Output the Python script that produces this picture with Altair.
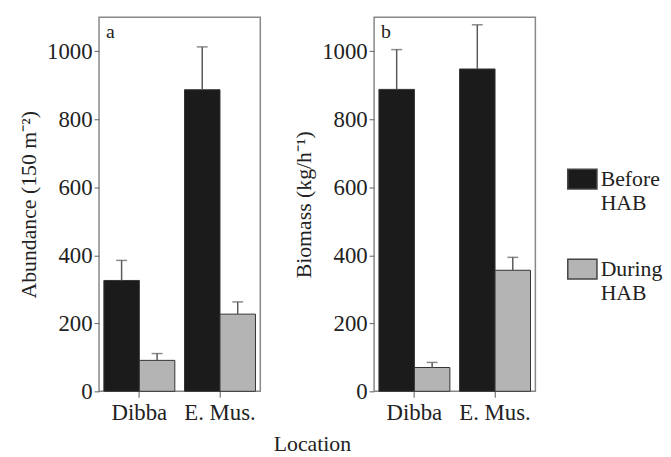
import altair as alt
import pandas as pd

locations = ["Dibba", "Dibba", "E. Mus.", "E. Mus."]
periods = ["Before HAB", "During HAB", "Before HAB", "During HAB"]
period_order = ["Before HAB", "During HAB"]
abund_mean = [326, 91, 887, 227]
abund_err = [59, 20, 126, 36]
bio_mean = [888, 70, 948, 356]
bio_err = [117, 15, 130, 38]

FONT = "Liberation Serif"


def make_df(mean, err):
    return pd.DataFrame({
        "loc": locations,
        "period": periods,
        "mean": mean,
        "top": [m + e for m, e in zip(mean, err)],
    })


def panel(df, ytitle, letter):
    base = alt.Chart(df).encode(
        x=alt.X("loc:N", title="", sort=["Dibba", "E. Mus."],
                scale=alt.Scale(paddingInner=0.12, paddingOuter=0.06),
                axis=alt.Axis(labelAngle=0, domain=False, tickSize=6,
                              tickColor="#777", tickWidth=1.2, labelPadding=4)),
        xOffset=alt.XOffset("period:N", sort=period_order),
    )
    bars = base.mark_bar(stroke="#333", strokeWidth=1).encode(
        y=alt.Y("mean:Q", title=ytitle,
                scale=alt.Scale(domain=[0, 1100], nice=False),
                axis=alt.Axis(values=[0, 200, 400, 600, 800, 1000], format="d",
                              domain=False, grid=False, tickSize=5, tickColor="#777",
                              tickWidth=1.2, labelPadding=2, titlePadding=6)),
        color=alt.Color("period:N", sort=period_order,
                        scale=alt.Scale(domain=period_order, range=["#1b1b1b", "#b4b4b4"]),
                        legend=alt.Legend(title=None, orient="none", legendX=473, legendY=148,
                                          symbolType="M-1,-0.68H1V0.68H-1Z",
                                          symbolSize=870, symbolStrokeColor="#444",
                                          symbolStrokeWidth=1.5,
                                          labelExpr="split(datum.label, ' ')",
                                          labelFontSize=22, labelFont=FONT,
                                          labelColor="#222", rowPadding=40,
                                          labelOffset=3)),
    )
    rule = base.mark_rule(color="#5a5a5a", strokeWidth=1.5).encode(
        y="mean:Q", y2="top:Q")
    cap = base.mark_tick(color="#5a5a5a", thickness=1.5, size=11, orient="horizontal").encode(
        y="top:Q")
    lab = alt.Chart(pd.DataFrame({"t": [letter]})).mark_text(
        align="left", baseline="top", fontSize=20, font=FONT, color="#222"
    ).encode(text="t:N", x=alt.value(7), y=alt.value(5))
    return alt.layer(bars, rule, cap, lab).properties(width=163, height=378)


pa = panel(make_df(abund_mean, abund_err), "Abundance (150 m\u207b\u00b2)", "a")
pb = panel(make_df(bio_mean, bio_err), "Biomass (kg/h\u207b\u00b9)", "b")

chart = alt.hconcat(pa, pb, spacing=31).properties(
    title=alt.TitleParams("Location", orient="bottom", anchor="middle",
                          fontSize=22, font=FONT, fontWeight="normal",
                          color="#222", offset=10, dx=-28),
    padding={"left": 9, "top": 6, "right": 0, "bottom": 0},
).configure_view(stroke="#888", strokeWidth=1.5).configure_axis(
    labelFont=FONT, titleFont=FONT, labelFontSize=23, titleFontSize=22,
    titleFontWeight="normal", labelColor="#222", titleColor="#222"
).resolve_scale(color="shared")

chart.save("out.html", embed_options={"renderer": "svg", "actions": False})
